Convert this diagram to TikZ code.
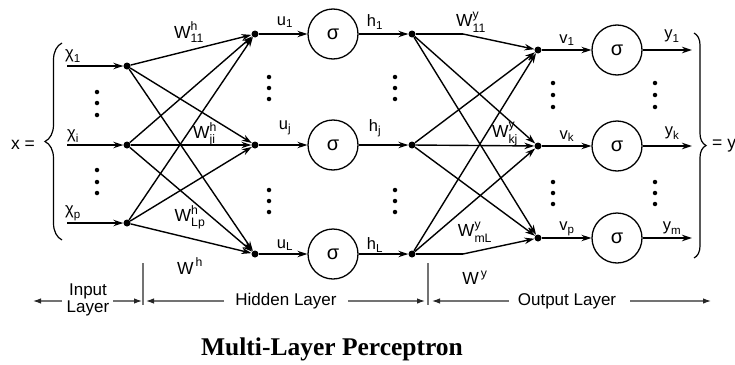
\documentclass[tikz,border=0pt]{standalone}
\usepackage{amsmath}
\usepackage{fontspec}
\setmainfont{Liberation Sans}
\newfontfamily\titlefont{Liberation Serif}
\usetikzlibrary{arrows.meta,decorations.pathreplacing}
\begin{document}
\begin{tikzpicture}[x=1pt,y=-1pt,
  dot/.style={circle,fill,inner sep=0pt,minimum size=7pt},
  sdot/.style={circle,fill,inner sep=0pt,minimum size=4.5pt},
  neuron/.style={circle,draw,line width=1.3pt,minimum size=50pt,inner sep=0pt,font=\fontsize{20}{22}\selectfont},
  conn/.style={line width=1.4pt,-{Stealth[length=10pt,width=6.5pt]}},
  plain/.style={line width=1.4pt},
  lab/.style={font=\fontsize{16.5}{18}\selectfont,inner sep=0pt},
  wlab/.style={font=\fontsize{17.5}{19}\selectfont,inner sep=0pt},
  layertxt/.style={font=\fontsize{17}{19}\selectfont,align=center,inner sep=0pt},
  layerarr/.style={draw=black!55,line width=1.1pt,-{Latex[length=8pt,width=5.5pt,color=black!85]}},
  divider/.style={draw=black!55,line width=1.1pt},
  bracestyle/.style={line width=1.2pt,decorate},
]
\useasboundingbox (0,0) rectangle (735,364);

% ---------- input layer ----------
\coordinate (s1) at (67,66);
\coordinate (si) at (67,145);
\coordinate (sp) at (67,223);
\node[dot] (in1) at (127,66) {};
\node[dot] (ini) at (127,145) {};
\node[dot] (inp) at (127,223) {};
\foreach \a in {1,i,p} \draw[conn] (s\a) -- (in\a);
\node[lab] (chi1) at (73,56) {$\text{χ}_{\text{1}}$};
\node[lab] (chii) at (73,136) {$\text{χ}_{\text{i}}$};
\node[lab] (chip) at (73,213) {$\text{χ}_{\text{p}}$};
\foreach \y [count=\k] in {92,103,115,170,182,193} \node[sdot] (idot\k) at (97,\y) {};

\draw[bracestyle,decoration={brace,amplitude=17pt}] (62,240) -- (62,43);
\node[wlab] (xeq) at (23,145) {x =};

% ---------- hidden layer ----------
\node[dot] (hin1) at (255,34) {};
\node[dot] (hinj) at (255,145) {};
\node[dot] (hinL) at (255,254) {};
\node[neuron] (hc1) at (333,34) {σ};
\node[neuron] (hcj) at (333,145) {σ};
\node[neuron] (hcL) at (333,254) {σ};
\node[dot] (hout1) at (412,34) {};
\node[dot] (houtj) at (412,145) {};
\node[dot] (houtL) at (412,254) {};
\foreach \a in {1,j,L} {
  \draw[conn] (hin\a) -- (hc\a);
  \draw[conn] (hc\a) -- (hout\a);
}
\foreach \a in {1,i,p} \foreach \b in {1,j,L} \draw[conn] (in\a) -- (hin\b);

\node[lab] (u1) at (285,22) {$\text{u}_{\text{1}}$};
\node[lab] (uj) at (285,128) {$\text{u}_{\text{j}}$};
\node[lab] (uL) at (285,245) {$\text{u}_{\text{L}}$};
\node[lab] (h1) at (375,22) {$\text{h}_{\text{1}}$};
\node[lab] (hj) at (375,128) {$\text{h}_{\text{j}}$};
\node[lab] (hL) at (375,245) {$\text{h}_{\text{L}}$};
\foreach \y [count=\k] in {77,88,99,190,201,212} {
  \node[sdot] (hda\k) at (269,\y) {};
  \node[sdot] (hdb\k) at (395,\y) {};
}

\node[wlab] (w11h) at (189,32) {$\text{W}^{\text{h}}_{\text{11}}$};
\node[wlab] (wjih) at (205,134) {$\text{W}^{\text{h}}_{\text{ji}}$};
\node[wlab] (wlph) at (190,217) {$\text{W}^{\text{h}}_{\text{Lp}}$};
\node[wlab] (wh) at (190,266) {$\text{W}^{\,\text{h}}$};

% ---------- output layer ----------
\node[dot] (oin1) at (538,50) {};
\node[dot] (oink) at (538,146) {};
\node[dot] (oinp) at (538,238) {};
\node[neuron] (oc1) at (617,50) {σ};
\node[neuron] (ock) at (617,146) {σ};
\node[neuron] (ocp) at (617,238) {σ};
\coordinate (e1) at (692,50);
\coordinate (ek) at (692,146);
\coordinate (ep) at (692,238);
\foreach \a in {1,k,p} {
  \draw[conn] (oin\a) -- (oc\a);
  \draw[conn] (oc\a) -- (e\a);
}
\coordinate (bend1) at (463,34);
\coordinate (bendL) at (463,254);
\draw[plain] (hout1) -- (bend1);
\draw[conn] (bend1) -- (oin1);
\draw[plain] (houtL) -- (bendL);
\draw[conn] (bendL) -- (oinp);
\foreach \b in {k,p} \draw[conn] (hout1) -- (oin\b);
\foreach \b in {1,k,p} \draw[conn] (houtj) -- (oin\b);
\foreach \b in {1,k} \draw[conn] (houtL) -- (oin\b);

\node[lab] (v1) at (567,40) {$\text{v}_{\text{1}}$};
\node[lab] (vk) at (567,136) {$\text{v}_{\text{k}}$};
\node[lab] (vp) at (567,229) {$\text{v}_{\text{p}}$};
\node[lab] (y1) at (672,36) {$\text{y}_{\text{1}}$};
\node[lab] (yk) at (672,133) {$\text{y}_{\text{k}}$};
\node[lab] (ym) at (672,228) {$\text{y}_{\text{m}}$};
\foreach \y [count=\k] in {83,95,107,182,193,204} {
  \node[sdot] (oda\k) at (553,\y) {};
  \node[sdot] (odb\k) at (655,\y) {};
}

\node[wlab] (w11y) at (471,22) {$\text{W}^{\text{y}}_{\text{11}}$};
\node[wlab] (wkjy) at (505,134) {$\text{W}^{\text{y}}_{\text{kj}}$};
\node[wlab] (wmly) at (475,232) {$\text{W}^{\text{y}}_{\text{mL}}$};
\node[wlab] (wy) at (475,278) {$\text{W}^{\,\text{y}}$};

\draw[bracestyle,decoration={brace,amplitude=12pt}] (694,33) -- (694,258);
\node[wlab,anchor=west] (yeq) at (712,146) {= y};

% ---------- layer labels ----------
\coordinate (d1t) at (143,263);
\coordinate (d1b) at (143,305);
\coordinate (d2t) at (428,263);
\coordinate (d2b) at (428,305);
\draw[divider] (d1t) -- (d1b);
\draw[divider] (d2t) -- (d2b);

\node[layertxt] (inlay) at (88,300) {Input\\[-2pt]Layer};
\node[layertxt] (hidlay) at (286,301) {Hidden Layer};
\node[layertxt] (outlay) at (567,301) {Output Layer};
\coordinate (a0) at (33,301);
\coordinate (a1) at (142,301);
\coordinate (a2) at (146,301);
\coordinate (a3) at (425,301);
\coordinate (a4) at (432,301);
\coordinate (a5) at (711,301);
\draw[layerarr] ([xshift=-5pt]inlay.west |- a0) -- (a0);
\draw[layerarr] ([xshift=4pt]inlay.east |- a1) -- (a1);
\draw[layerarr] ([xshift=-11pt]hidlay.west) -- (a2);
\draw[layerarr] ([xshift=11pt]hidlay.east) -- (a3);
\draw[layerarr] ([xshift=-9pt]outlay.west) -- (a4);
\draw[layerarr] ([xshift=14pt]outlay.east) -- (a5);

\node[font=\titlefont\bfseries\fontsize{25.5}{28}\selectfont,anchor=base,inner sep=0pt] (title) at (332,355) {Multi-Layer Perceptron};
\end{tikzpicture}
\end{document}
